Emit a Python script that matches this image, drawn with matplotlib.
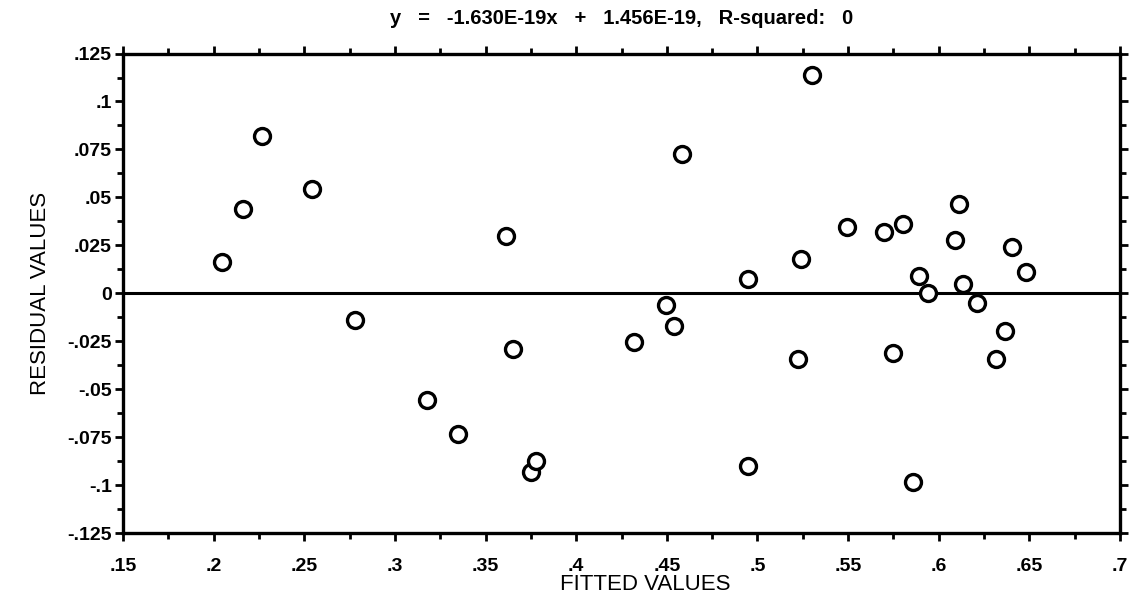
"""Residual plot: residuals vs fitted values with the fitted regression line."""

import numpy as np
import matplotlib
matplotlib.use("Agg")
import matplotlib.pyplot as plt
from matplotlib.ticker import FixedLocator, FuncFormatter

fitted = [0.2044, 0.2163, 0.2269, 0.2540, 0.2778, 0.3178, 0.3347,
          0.3611, 0.3653, 0.3749, 0.3776, 0.4321, 0.4495, 0.4539,
          0.4586, 0.4947, 0.4947, 0.5225, 0.5238, 0.5300, 0.5492,
          0.5699, 0.5745, 0.5804, 0.5856, 0.5892, 0.5942, 0.6089,
          0.6113, 0.6135, 0.6212, 0.6315, 0.6365, 0.6402, 0.6479]
residual = [0.0165, 0.0440, 0.0820, 0.0543, -0.0140, -0.0556, -0.0736,
            0.0297, -0.0290, -0.0930, -0.0875, -0.0255, -0.0060, -0.0172,
            0.0725, 0.0072, -0.0900, -0.0345, 0.0180, 0.1140, 0.0345,
            0.0318, -0.0310, 0.0360, -0.0985, 0.0088, 0.0003, 0.0280,
            0.0465, 0.0050, -0.0050, -0.0345, -0.0195, 0.0243, 0.0112]

slope = -1.630e-19
intercept = 1.456e-19
r_squared = 0

x_ticks = [0.15, 0.2, 0.25, 0.3, 0.35, 0.4, 0.45, 0.5, 0.55, 0.6, 0.65, 0.7]
y_ticks = [-0.125, -0.1, -0.075, -0.05, -0.025, 0, 0.025, 0.05, 0.075, 0.1, 0.125]

plt.rcParams["font.family"] = ["Liberation Sans", "DejaVu Sans"]


def short_num(v, pos=None):
    s = f"{v:g}"
    return s.replace("0.", ".")


fig = plt.figure(figsize=(11.32, 6.05), dpi=100)
ax = fig.add_axes([0.1087, 0.119, 0.8807, 0.7925])

ax.plot(fitted, residual, "o", ms=11.5, mfc="white", mec="black", mew=2.4,
        zorder=3)

# fitted line (effectively flat at zero)
xl = np.array([0.15, 0.7])
ax.plot(xl, slope * xl + intercept, color="black", lw=2.2, zorder=2)

ax.set_xlim(0.15, 0.7)
ax.set_ylim(-0.125, 0.125)

ax.xaxis.set_major_locator(FixedLocator(x_ticks))
ax.xaxis.set_minor_locator(FixedLocator(np.arange(0.175, 0.7, 0.05)))
ax.yaxis.set_major_locator(FixedLocator(y_ticks))
ax.yaxis.set_minor_locator(FixedLocator(np.arange(-0.1125, 0.125, 0.025)))
ax.xaxis.set_major_formatter(FuncFormatter(short_num))
ax.yaxis.set_major_formatter(FuncFormatter(short_num))

ax.tick_params(which="both", direction="out", width=2, color="black",
               top=True, right=True)
ax.tick_params(which="major", length=6)
ax.tick_params(which="minor", length=4)
ax.tick_params(axis="x", labelsize=14, pad=12)
ax.tick_params(axis="y", labelsize=14, pad=2)
for lab in ax.get_xticklabels() + ax.get_yticklabels():
    lab.set_fontweight("bold")

for sp in ax.spines.values():
    sp.set_linewidth(2.4)

ax.set_xlabel("FITTED VALUES", fontsize=16, labelpad=2)
ax.xaxis.set_label_coords(0.524, -0.085)
ax.set_ylabel("RESIDUAL VALUES", fontsize=16, labelpad=12)

title = (f"y   =   {slope:.3E}x   +   {intercept:.3E},   "
         f"R-squared:   {r_squared}")
ax.set_title(title, fontsize=14.5, fontweight="bold", pad=21)

fig.savefig("out.png", dpi=100, facecolor="white")
